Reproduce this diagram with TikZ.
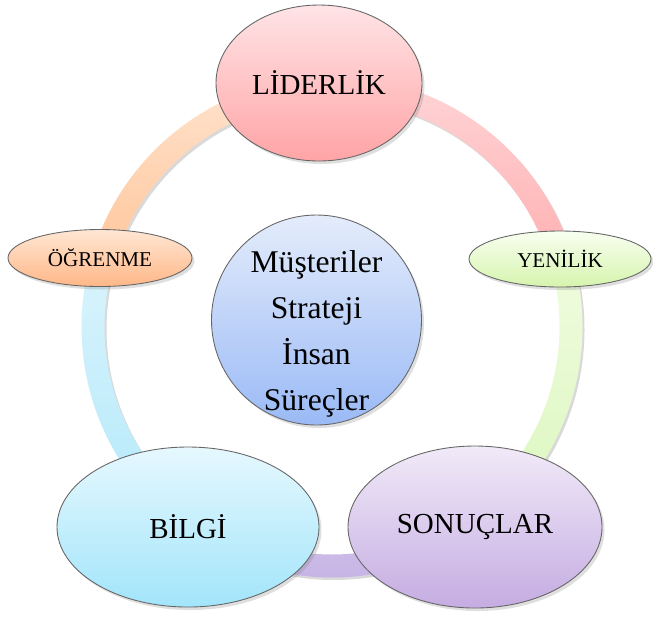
\documentclass[tikz,border=0pt]{standalone}
\usepackage{fontspec}
\setmainfont{Liberation Serif}
\usepackage{xcolor}
\usetikzlibrary{shapes.geometric,shadows}

\definecolor{pinkT}{HTML}{FFE4E6}\definecolor{pinkB}{HTML}{FFA4A6}
\definecolor{peachT}{HTML}{FFE7D4}\definecolor{peachB}{HTML}{FFB787}
\definecolor{greenT}{HTML}{F8FFF0}\definecolor{greenB}{HTML}{D6F4AE}
\definecolor{blueT}{HTML}{E4ECFB}\definecolor{blueB}{HTML}{9ABAF6}
\definecolor{cyanT}{HTML}{E6F8FE}\definecolor{cyanB}{HTML}{A2E5FB}
\definecolor{lilaT}{HTML}{F1EAF8}\definecolor{lilaB}{HTML}{C5ACE2}

\begin{document}
\begin{tikzpicture}
		[bubble/.style={ellipse,draw=black!60,line width=.5pt,inner sep=0pt,
			drop shadow={opacity=.25,shadow xshift=.05cm,shadow yshift=-.06cm}},
		 big/.style={bubble,font=\fontsize{16.5}{20}\selectfont},
		 small/.style={bubble,font=\fontsize{12}{14}\selectfont}]
		\useasboundingbox (0,0) rectangle (13.06,-12.34);
		\begin{scope}[shift={(6.64,-6.54)}]
		\foreach \a/\b/\ct/\cb in {93.05/16.6/FFD6D8/FFB0B2,
				16.6/-54.4/F0FCE0/DAF6BC,
				-54.4/-125.75/D3C5EC/C4B0E3,
				-125.75/-196.6/DAF4FC/B2E8FB,
				163.4/93.05/FFE3CE/FFC69B}
		{
			\fill[black,opacity=.15,shift={(.04,-.05)}] (\a:5.01) arc[start angle=\a,end angle=\b,radius=5.01]
				-- (\b:4.55) arc[start angle=\b,end angle=\a,radius=4.55] -- cycle;
			\definecolor{bandT}{HTML}{\ct}\definecolor{bandB}{HTML}{\cb}
			\shade[top color=bandT,bottom color=bandB] (\a:5.01) arc[start angle=\a,end angle=\b,radius=5.01]
				-- (\b:4.55) arc[start angle=\b,end angle=\a,radius=4.55] -- cycle;
		}
		\end{scope}
		\node[big,top color=pinkT,bottom color=pinkB,minimum width=4.12cm,minimum height=3.12cm] (lid) at (6.38,-1.66) {LİDERLİK};
		\node[small,top color=greenT,bottom color=greenB,minimum width=3.64cm,minimum height=1.12cm] (yen) at (11.20,-5.18) {YENİLİK};
		\node[big,top color=lilaT,bottom color=lilaB,minimum width=5.08cm,minimum height=3.24cm] (son) at (9.50,-10.54) {SONUÇLAR};
		\node[big,top color=cyanT,bottom color=cyanB,minimum width=5.24cm,minimum height=3.20cm] (bil) at (3.76,-10.54) {BİLGİ};
		\node[small,top color=peachT,bottom color=peachB,minimum width=3.68cm,minimum height=1.14cm] (ogr) at (2.00,-5.16) {ÖĞRENME};
		\node[bubble,circle,top color=blueT,bottom color=blueB,minimum size=4.2cm] (mid) at (6.33,-6.40) {};
		\node[align=center,font=\fontsize{18}{26.2}\selectfont] (midtext) at ([yshift=-.28cm]mid.center) {Müşteriler\\Strateji\\İnsan\\Süreçler};
\end{tikzpicture}
\end{document}
